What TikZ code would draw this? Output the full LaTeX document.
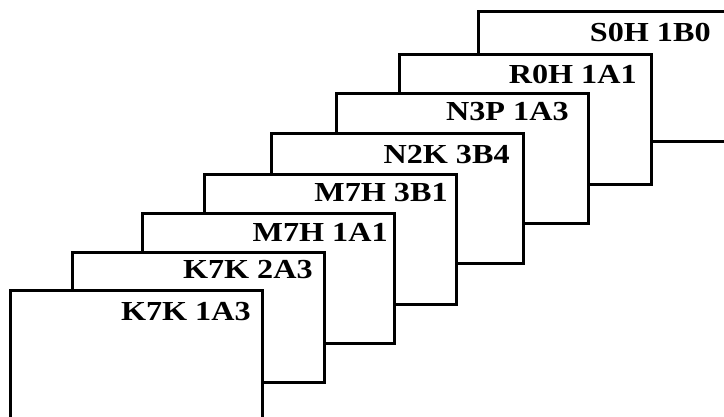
\documentclass[tikz,border=0pt]{standalone}
\usepackage{fontspec}
\setmainfont{Liberation Serif}
\usetikzlibrary{positioning}
\newcommand{\cardtext}[1]{\scalebox{1.17}[1]{\bfseries #1}}

\begin{document}
\begin{tikzpicture}
  [x=1pt,y=-1pt,
   card/.style={draw,fill=white,line width=2.8pt,minimum width=252pt,
     minimum height=130pt,inner sep=0pt,anchor=north west},
   tag/.style={font=\fontsize{27.5}{27.5}\selectfont,
     inner sep=0pt,anchor=base east}]
  \useasboundingbox (0,0) rectangle (724,417);
  \clip (0,0) rectangle (724,417);
  % cards from back to front
  \foreach \name/\x/\y/\dx/\dy/\txt in {
      s0h/477/10/21/32/S0H 1B0,
      r0h/398/53/16/31/R0H 1A1,
      n3p/335/92/21/29/N3P 1A3,
      n2k/270/132/15/32/N2K 3B4,
      m7hb/203/173/10/29/M7H 3B1,
      m7ha/141/212/8/30/M7H 1A1,
      k7kb/71/251/13/28/K7K 2A3,
      k7ka/9/289/13/31/K7K 1A3}
  {
    \node[card] (\name) at (\x,\y) {};
    \node[tag] (\name-tag) at ([xshift=-\dx pt,yshift=-\dy pt]\name.north east) {\cardtext{\txt}};
  }
\end{tikzpicture}
\end{document}
